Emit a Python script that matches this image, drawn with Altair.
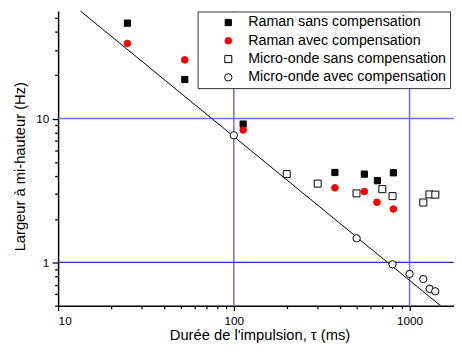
import altair as alt
import pandas as pd

# ---- data ----
series_names = ["Raman sans compensation", "Raman avec compensation",
                "Micro-onde sans compensation", "Micro-onde avec compensation"]

rs_tau = [24.8, 52.6, 113, 376, 553, 656, 809]
rs_w = [46.1, 18.7, 9.16, 4.22, 4.11, 3.70, 4.20]

ra_tau = [24.8, 52.6, 113, 376, 553, 652, 809]
ra_w = [33.3, 25.6, 8.33, 3.30, 3.11, 2.62, 2.35]

ms_tau = [200, 300, 499, 700, 800, 1197, 1297, 1402]
ms_w = [4.11, 3.53, 3.02, 3.23, 2.89, 2.61, 2.97, 2.96]

ma_tau = [100, 500, 800, 1000, 1197, 1300, 1400]
ma_w = [7.66, 1.47, 0.97, 0.832, 0.766, 0.655, 0.63]

line_tau = [10, 1790]
line_w = [75, 0.419]

grid_tau = [100, 1000]
grid_w_light = [10]
grid_w_dark = [1]

x_ticks = [10, 20, 30, 40, 50, 60, 70, 80, 90, 100, 200, 300, 400, 500, 600, 700, 800, 900, 1000]
y_ticks = [0.5, 0.6, 0.7, 0.8, 0.9, 1, 2, 3, 4, 5, 6, 7, 8, 9, 10, 20, 30, 40, 50]

shapes = ["square", "circle", "square", "circle"]
fills = ["black", "red", "white", "white"]
strokes = ["black", "red", "black", "black"]
sizes = [40, 56, 36, 44]

# ---- tables ----
rows = []
for name, t, w in zip(series_names, [rs_tau, ra_tau, ms_tau, ma_tau], [rs_w, ra_w, ms_w, ma_w]):
    for a, b in zip(t, w):
        rows.append({"tau": a, "w": b, "serie": name})
pts = pd.DataFrame(rows)
line_df = pd.DataFrame({"tau": line_tau, "w": line_w})
vgrid = pd.DataFrame({"tau": grid_tau})
hgrid_l = pd.DataFrame({"w": grid_w_light})
hgrid_d = pd.DataFrame({"w": grid_w_dark})

FONT = "Liberation Sans"
XDOM = [10, 1790]
YDOM = [0.5, 56]

major = "abs(log(datum.value)/LN10 - round(log(datum.value)/LN10)) < 0.001"

xscale = alt.Scale(type="log", domain=XDOM, nice=False)
yscale = alt.Scale(type="log", domain=YDOM, nice=False)

xaxis = alt.Axis(values=x_ticks, title="Durée de l'impulsion, τ (ms)",
                 labelExpr="(" + major + ") ? format(datum.value, 'd') : ''",
                 tickSize={"condition": {"test": major, "value": 5}, "value": 3},
                 labelPadding=5.5, labelOverlap=False,
                 titleX=205, titleY=29, titleBaseline="middle", titleAlign="center")
yaxis = alt.Axis(values=y_ticks, title="Largeur à mi-hauteur (Hz)",
                 labelExpr="(" + major + ") ? format(datum.value, 'd') : ''",
                 tickSize={"condition": {"test": major, "value": 6}, "value": 3.5},
                 labelPadding=3.5, labelOverlap=False,
                 titleX=-39, titleY=158, titleAngle=270, titleBaseline="middle",
                 titleAlign="center")

base_x = alt.X("tau:Q", scale=xscale, axis=xaxis)
base_y = alt.Y("w:Q", scale=yscale, axis=yaxis)

vrules = alt.Chart(vgrid).mark_rule(color="#6b6bff", strokeWidth=1.5).encode(
    x=alt.X("tau:Q", scale=xscale))
hrule_l = alt.Chart(hgrid_l).mark_rule(color="#7070ff", strokeWidth=1.5).encode(
    y=alt.Y("w:Q", scale=yscale))
hrule_d = alt.Chart(hgrid_d).mark_rule(color="#2a2ad8", strokeWidth=1.2).encode(
    y=alt.Y("w:Q", scale=yscale))

fit = alt.Chart(line_df).mark_line(color="black", strokeWidth=1, clip=True).encode(
    x=alt.X("tau:Q", scale=xscale), y=alt.Y("w:Q", scale=yscale))

leg = alt.Legend(title=None, symbolOffset=20, labelOffset=13, labelLimit=400)

points = alt.Chart(pts).mark_point(filled=False, strokeWidth=1, opacity=1).encode(
    x=base_x,
    y=base_y,
    shape=alt.Shape("serie:N", scale=alt.Scale(domain=series_names, range=shapes), legend=leg),
    fill=alt.Fill("serie:N", scale=alt.Scale(domain=series_names, range=fills), legend=leg),
    stroke=alt.Stroke("serie:N", scale=alt.Scale(domain=series_names, range=strokes), legend=leg),
    size=alt.Size("serie:N", scale=alt.Scale(domain=series_names, range=sizes), legend=leg),
)

chart = alt.layer(vrules, hrule_l, hrule_d, fit, points).properties(
    width=403, height=300,
    autosize=alt.AutoSizeParams(type="none"),
    padding={"left": 51, "top": 0, "right": 0, "bottom": 40},
).configure_view(strokeWidth=0).configure_axis(
    grid=False, domainColor="black", domainWidth=1.5, tickColor="black", tickWidth=1.3,
    labelFont=FONT, titleFont=FONT, labelFontSize=12, titleFontSize=15,
    titleFontWeight="normal", labelColor="black", titleColor="black",
).configure_legend(
    orient="none", legendX=142, legendY=0.5, padding=4, rowPadding=3.6,
    fillColor="white", strokeColor="#333333", strokeWidth=1,
    labelFont=FONT, labelFontSize=14.5, labelColor="black",
    symbolStrokeWidth=1, labelLimit=400,
)

chart.save("out.html", embed_options={"renderer": "svg", "actions": False})
